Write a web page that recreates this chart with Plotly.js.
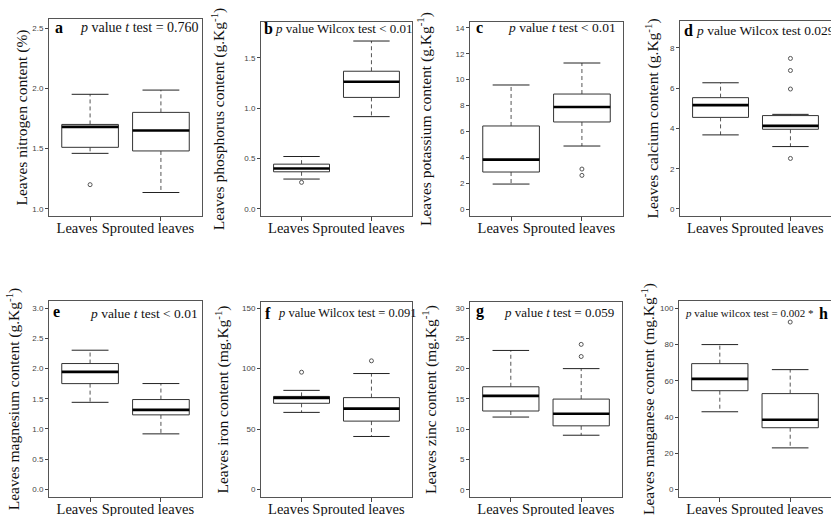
<!DOCTYPE html>
<html><head><meta charset="utf-8">
<script src="https://cdn.plot.ly/plotly-3.0.1.min.js"></script>
<style>html,body{margin:0;padding:0;background:#fff}#chart{width:831px;height:516px}</style>
</head><body><div id="chart"></div>
<script>
const categories = ['Leaves', 'Sprouted leaves'];
// [lower whisker, Q1, median, Q3, upper whisker] for Leaves, Sprouted leaves
const nitrogenStats = [[1.46, 1.51, 1.68, 1.70, 1.95], [1.135, 1.48, 1.65, 1.80, 1.985]];
const nitrogenOutliers = [[1.20], []];
const phosphorusStats = [[0.297, 0.369, 0.402, 0.445, 0.521], [0.917, 1.108, 1.263, 1.368, 1.668]];
const phosphorusOutliers = [[0.264], []];
const potassiumStats = [[1.93, 2.86, 3.82, 6.42, 9.59], [4.87, 6.73, 7.89, 8.89, 11.29]];
const potassiumOutliers = [[], [3.09, 2.60]];
const calciumStats = [[3.68, 4.55, 5.16, 5.53, 6.27], [3.10, 3.96, 4.13, 4.64, 4.70]];
const calciumOutliers = [[], [7.48, 6.88, 5.96, 2.51]];
const magnesiumStats = [[1.44, 1.75, 1.945, 2.083, 2.304], [0.917, 1.232, 1.315, 1.486, 1.751]];
const magnesiumOutliers = [[], []];
const ironStats = [[63.8, 71.3, 75.8, 77.0, 82.0], [43.9, 56.6, 66.9, 76.0, 95.9]];
const ironOutliers = [[97], [106.4]];
const zincStats = [[12.0, 13.0, 15.5, 17.0, 23.0], [9.0, 10.55, 12.54, 14.97, 20.0]];
const zincOutliers = [[], [24.0, 22.0]];
const manganeseStats = [[42.9, 54.5, 61.0, 69.4, 79.9], [23.0, 34.1, 38.5, 52.9, 66.1]];
const manganeseOutliers = [[], [92.3]];

const yTitles = [
  'Leaves nitrogen content (%)',
  'Leaves phosphorus content (g.Kg<sup>-1</sup>)',
  'Leaves potassium content (g.Kg<sup>-1</sup>)',
  'Leaves calcium content (g.Kg<sup>-1</sup>)',
  'Leaves magnesium content (g.Kg<sup>-1</sup>)',
  'Leaves iron content (mg.Kg<sup>-1</sup>)',
  'Leaves zinc content (mg.Kg<sup>-1</sup>)',
  'Leaves manganese content (mg.Kg<sup>-1</sup>)'
];
const panelLetters = ['a', 'b', 'c', 'd', 'e', 'f', 'g', 'h'];
const pTexts = [
  '<i>p</i> value <i>t</i> test = 0.760',
  '<i>p</i> value Wilcox test < 0.01',
  '<i>p</i> value <i>t</i> test < 0.01',
  '<i>p</i> value Wilcox test 0.029',
  '<i>p</i> value <i>t</i> test < 0.01',
  '<i>p</i> value Wilcox test = 0.091',
  '<i>p</i> value <i>t</i> test = 0.059',
  '<i>p</i> value wilcox test = 0.002 *'
];

const statsList = [nitrogenStats, phosphorusStats, potassiumStats, calciumStats, magnesiumStats, ironStats, zincStats, manganeseStats];
const outlierList = [nitrogenOutliers, phosphorusOutliers, potassiumOutliers, calciumOutliers, magnesiumOutliers, ironOutliers, zincOutliers, manganeseOutliers];

// layout (pixel boxes: left, right, top, bottom), axis ranges, ticks
const W = 831, H = 516;
const boxes = [
  [49, 202, 19, 216], [261, 412, 22, 216], [470, 623, 22, 216], [680, 831, 21, 216],
  [49, 202, 301, 497], [261, 412, 302, 497], [470, 622, 302, 497], [679, 831, 301, 497]
];
const yRanges = [[0.94, 2.575], [-0.07, 1.857], [-0.54, 14.46], [-0.35, 9.34], [-0.13, 3.12], [-6.1, 155], [-1.2, 31.0], [-4.05, 103.9]];
const yDticks = [0.5, 0.5, 2, 2, 0.5, 50, 5, 20];
const yFormats = ['.1f', '.1f', 'd', 'd', '.1f', 'd', 'd', 'd'];
const titleStandoff = [0, 15, 20, 7, 8, 9, 15, 1];
// annotation placement: [letterX, letterY, textX, textY, textSize]
const annPos = [
  [53, 28, 78, 28, 14], [262, 29, 273, 29, 13], [474, 28, 506, 28, 13.5], [682, 31, 694, 31, 13.5],
  [51, 311, 88, 313, 13.5], [263, 313, 276, 313, 12.5], [474, 311, 502, 312, 13], [817, 313, 683, 313, 11]
];

const serif = 'Liberation Serif, Times New Roman, serif';
const sans = 'Liberation Sans, Arial, sans-serif';
const traces = [];
const layout = {
  width: W, height: H, margin: {l: 0, r: 0, t: 0, b: 0},
  paper_bgcolor: '#fff', plot_bgcolor: '#fff', showlegend: false,
  annotations: []
};
const halfBox = 0.4, halfCap = 0.26;

statsList.forEach((stats, i) => {
  const k = i === 0 ? '' : String(i + 1);
  const xa = 'x' + k, ya = 'y' + k;
  stats.forEach((s, g) => {
    const c = g + 1;
    traces.push({type: 'scatter', mode: 'lines', xaxis: xa, yaxis: ya, hoverinfo: 'skip',
      x: [c, c, null, c, c], y: [s[3], s[4], null, s[1], s[0]],
      line: {color: '#555', width: 1, dash: '4px,3px'}});
    traces.push({type: 'scatter', mode: 'lines', xaxis: xa, yaxis: ya, hoverinfo: 'skip',
      x: [c - halfCap, c + halfCap, null, c - halfCap, c + halfCap], y: [s[4], s[4], null, s[0], s[0]],
      line: {color: '#222', width: 1}});
    traces.push({type: 'scatter', mode: 'lines', xaxis: xa, yaxis: ya, hoverinfo: 'skip',
      x: [c - halfBox, c + halfBox, c + halfBox, c - halfBox, c - halfBox],
      y: [s[1], s[1], s[3], s[3], s[1]],
      fill: 'toself', fillcolor: '#fff', line: {color: '#333', width: 1}});
    traces.push({type: 'scatter', mode: 'lines', xaxis: xa, yaxis: ya, hoverinfo: 'skip',
      x: [c - halfBox, c + halfBox], y: [s[2], s[2]],
      line: {color: '#000', width: 2.6}});
    const o = outlierList[i][g];
    if (o.length) {
      traces.push({type: 'scatter', mode: 'markers', xaxis: xa, yaxis: ya, hoverinfo: 'skip',
        x: o.map(() => c), y: o,
        marker: {symbol: 'circle-open', size: 4, color: '#555', line: {width: 1}}});
    }
  });
  const b = boxes[i];
  layout['xaxis' + k] = {
    domain: [b[0] / W, Math.min(1, b[1] / W)], anchor: ya,
    range: [0.42, 2.58], tickmode: 'array', tickvals: [1, 2], ticktext: categories,
    ticks: 'outside', ticklen: 4, tickcolor: '#444', tickwidth: 1, tickangle: 0,
    showline: true, mirror: true, linecolor: '#555', linewidth: 1,
    showgrid: false, zeroline: false, fixedrange: true,
    tickfont: {family: serif, size: 14.5, color: '#111'}, ticklabelshift: -13, ticklabelstandoff: -5
  };
  layout['yaxis' + k] = {
    domain: [1 - b[3] / H, 1 - b[2] / H], anchor: xa,
    range: yRanges[i], tick0: 0, dtick: yDticks[i], tickformat: yFormats[i],
    ticks: 'outside', ticklen: 3, tickcolor: '#444', tickwidth: 1,
    showline: true, mirror: true, linecolor: '#555', linewidth: 1,
    showgrid: false, zeroline: false, fixedrange: true,
    tickfont: {family: sans, size: 8, color: '#444'},
    title: {text: yTitles[i], font: {family: serif, size: 15.5, color: '#111'}, standoff: titleStandoff[i]}
  };
  const a = annPos[i];
  layout.annotations.push({xref: 'paper', yref: 'paper', x: a[0] / W, y: 1 - a[1] / H,
    xanchor: 'left', yanchor: 'middle', showarrow: false, text: '<b>' + panelLetters[i] + '</b>',
    font: {family: serif, size: 16, color: '#000'}});
  layout.annotations.push({xref: 'paper', yref: 'paper', x: a[2] / W, y: 1 - a[3] / H,
    xanchor: 'left', yanchor: 'middle', showarrow: false, text: pTexts[i],
    font: {family: i === 7 ? 'Liberation Sans Narrow, ' + serif : serif, size: a[4], color: '#111'}});
});

Plotly.newPlot('chart', traces, layout, {displayModeBar: false, staticPlot: true});
</script>
</body></html>
